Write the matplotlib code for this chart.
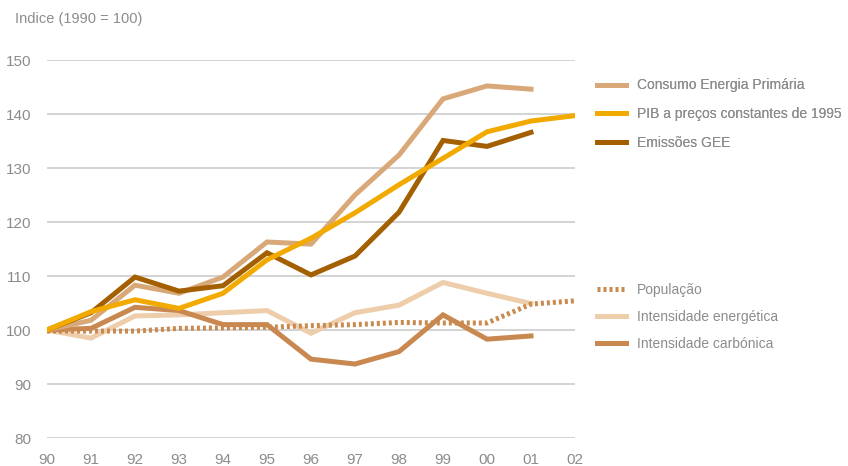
import matplotlib
matplotlib.use("Agg")
import matplotlib.pyplot as plt

plt.rcParams['font.family'] = ['Liberation Sans', 'DejaVu Sans']

years = list(range(1990, 2003))
xlabels = ['90', '91', '92', '93', '94', '95', '96', '97', '98', '99', '00', '01', '02']

consumo = [100, 101.8, 108.3, 106.8, 109.8, 116.3, 115.9, 125.0, 132.4, 142.8, 145.2, 144.6]
pib = [100, 103.4, 105.6, 104.0, 106.8, 113.0, 117.0, 121.7, 126.9, 131.8, 136.7, 138.7, 139.7]
emissoes = [100, 103.2, 109.8, 107.2, 108.2, 114.3, 110.2, 113.7, 121.8, 135.1, 134.0, 136.6]
populacao = [99.8, 99.8, 99.8, 100.3, 100.4, 100.5, 100.8, 101.0, 101.4, 101.3, 101.3, 104.8, 105.4]
int_energ = [100, 98.5, 102.6, 102.8, 103.2, 103.6, 99.4, 103.2, 104.6, 108.8, 106.8, 104.9]
int_carb = [100, 100.3, 104.2, 103.6, 101.0, 101.0, 94.6, 93.7, 96.0, 102.8, 98.3, 98.9]

c_consumo = '#D9A878'
c_pib = '#F2AA00'
c_emiss = '#A35F00'
c_pop = '#C98A50'
c_ienerg = '#EDCDAA'
c_icarb = '#C8884F'
grey_txt = '#8C8C8C'

fig = plt.figure(figsize=(8.48, 4.66), dpi=100)
ax = fig.add_axes([47/848, 1-438/466, (575-47)/848, (438-60)/466])

lw = 3.6
l_ie, = ax.plot(years[:len(int_energ)], int_energ, color=c_ienerg, lw=lw, solid_joinstyle='miter', label='Intensidade energética')
l_pop, = ax.plot(years[:len(populacao)], populacao, color=c_pop, lw=lw, linestyle=(0, (0.6, 0.6)), dash_capstyle='butt', label='População')
l_ic, = ax.plot(years[:len(int_carb)], int_carb, color=c_icarb, lw=lw, solid_joinstyle='miter', label='Intensidade carbónica')
l_co, = ax.plot(years[:len(consumo)], consumo, color=c_consumo, lw=lw, solid_joinstyle='miter', label='Consumo Energia Primária')
l_em, = ax.plot(years[:len(emissoes)], emissoes, color=c_emiss, lw=lw, solid_joinstyle='miter', label='Emissões GEE')
l_pib, = ax.plot(years[:len(pib)], pib, color=c_pib, lw=lw, solid_joinstyle='miter', label='PIB a preços constantes de 1995')

ax.set_xlim(1990, 2002)
ax.set_ylim(80, 150)
ax.set_yticks([80, 90, 100, 110, 120, 130, 140, 150])
ax.set_xticks(years)
ax.set_xticklabels(xlabels)
ax.grid(axis='y', color='#C8C8C8', lw=1.1)
ax.set_axisbelow(True)
for s in ax.spines.values():
    s.set_visible(False)
ax.tick_params(length=0, labelsize=11, labelcolor=grey_txt)
ax.tick_params(axis='y', pad=11.5)
ax.tick_params(axis='x', pad=11)

fig.text(15/848, 1-19/466, 'Indice (1990 = 100)', fontsize=10.5, color=grey_txt, va='center', ha='left')

leg1 = fig.legend(handles=[l_co, l_pib, l_em], loc='center left',
                  bbox_to_anchor=(597/848, 1-114/466), frameon=False, fontsize=10,
                  handlelength=2.1, handletextpad=0.8, labelspacing=1.05,
                  borderpad=0, borderaxespad=0, labelcolor=grey_txt)
leg2 = fig.legend(handles=[l_pop, l_ie, l_ic], loc='center left',
                  bbox_to_anchor=(597/848, 1-317/466), frameon=False, fontsize=10,
                  handlelength=2.1, handletextpad=0.8, labelspacing=0.95,
                  borderpad=0, borderaxespad=0, labelcolor=grey_txt)
fig.add_artist(leg1)

fig.savefig('out.png', dpi=100)
